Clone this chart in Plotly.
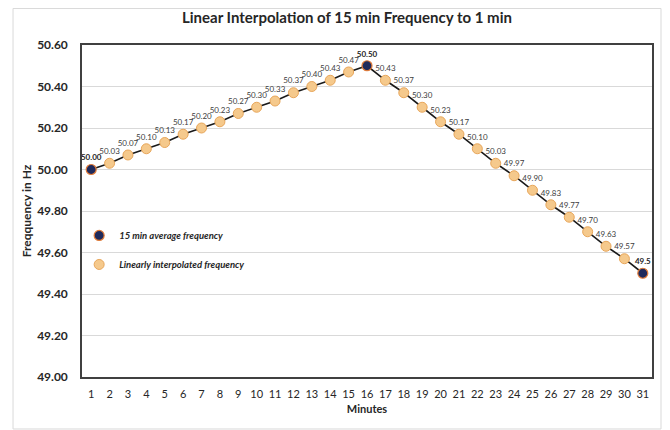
import plotly.graph_objects as go

# Chart data
minutes = [1, 2, 3, 4, 5, 6, 7, 8, 9, 10, 11, 12, 13, 14, 15, 16,
           17, 18, 19, 20, 21, 22, 23, 24, 25, 26, 27, 28, 29, 30, 31]
frequency = [50.00, 50.03, 50.07, 50.10, 50.13, 50.17, 50.20, 50.23, 50.27, 50.30,
             50.33, 50.37, 50.40, 50.43, 50.47, 50.50, 50.43, 50.37, 50.30, 50.23,
             50.17, 50.10, 50.03, 49.97, 49.90, 49.83, 49.77, 49.70, 49.63, 49.57, 49.50]
avg_minutes = [1, 16, 31]
avg_labels = ["50.00", "50.50", "49.5"]

FONT = "Lato, 'Open Sans', sans-serif"
TEXT = "#262626"

avg_freq = [frequency[minutes.index(m)] for m in avg_minutes]
interp_min = [m for m in minutes if m not in avg_minutes]
interp_freq = [frequency[minutes.index(m)] for m in interp_min]
interp_labels = ["%.2f" % v for v in interp_freq]

fig = go.Figure()
fig.add_trace(go.Scatter(x=minutes, y=frequency, mode="lines",
                         line=dict(color="#1a1a1a", width=1.6),
                         showlegend=False, hoverinfo="skip"))
fig.add_trace(go.Scatter(
    x=interp_min, y=interp_freq, mode="markers+text",
    name="<b><i>Linearly interpolated frequency</i></b>",
    marker=dict(size=10, color="#F5C98C", line=dict(color="#E8A65A", width=1)),
    text=interp_labels, textposition="top center",
    textfont=dict(size=8, color="#404040", family=FONT),
    legendgroup="b", legendrank=2))
fig.add_trace(go.Scatter(
    x=avg_minutes, y=avg_freq, mode="markers+text",
    name="<b><i>15 min average frequency</i></b>",
    marker=dict(size=10, color="#1F2A5C", line=dict(color="#E07B39", width=1.2)),
    text=["<b>%s</b>" % t for t in avg_labels], textposition="top center",
    textfont=dict(size=8, color="#262626", family=FONT),
    legendgroup="a", legendrank=1))

# page body has an 8px default margin, so the figure is sized to the visible area
fig.update_layout(
    width=662, height=422,
    margin=dict(l=74, r=18, t=37, b=53),
    paper_bgcolor="white", plot_bgcolor="white",
    font=dict(family=FONT, color=TEXT),
    title=dict(text="<b>Linear Interpolation of 15 min Frequency to 1 min</b>",
               x=0.512, xanchor="center", y=0.976, yanchor="middle",
               font=dict(size=15, color=TEXT)),
    legend=dict(x=-0.005, y=0.47, xanchor="left", yanchor="top",
                bgcolor="rgba(0,0,0,0)", tracegroupgap=10,
                font=dict(size=9.5, color=TEXT)),
    shapes=[dict(type="rect", xref="paper", yref="paper",
                 x0=-0.121, x1=1.0158, y0=-0.1566, y1=1.11,
                 line=dict(color="#d9d9d9", width=1), layer="below")],
)
fig.update_xaxes(range=[0.5, 31.5], tickvals=minutes, showgrid=False,
                 showline=True, mirror=True, linecolor="#404040", linewidth=1.5,
                 ticks="", ticklabelstandoff=6,
                 tickfont=dict(size=11, color=TEXT),
                 title=dict(text="<b>Minutes</b>", font=dict(size=11, color=TEXT), standoff=6))
fig.update_yaxes(range=[49.0, 50.6], dtick=0.2, tickformat=".2f",
                 showgrid=True, gridcolor="#d9d9d9", gridwidth=1, zeroline=False,
                 showline=True, mirror=True, linecolor="#404040", linewidth=1.5,
                 ticks="", ticklabelstandoff=10,
                 tickfont=dict(size=12, color=TEXT),
                 title=dict(text="<b>Freqquency in Hz</b>", font=dict(size=12, color=TEXT), standoff=3))
fig.for_each_xaxis(lambda a: a.update(tickprefix="<b>", ticksuffix="</b>"))
fig.for_each_yaxis(lambda a: a.update(tickprefix="<b>", ticksuffix="</b>"))

fig.write_html("out.html")
